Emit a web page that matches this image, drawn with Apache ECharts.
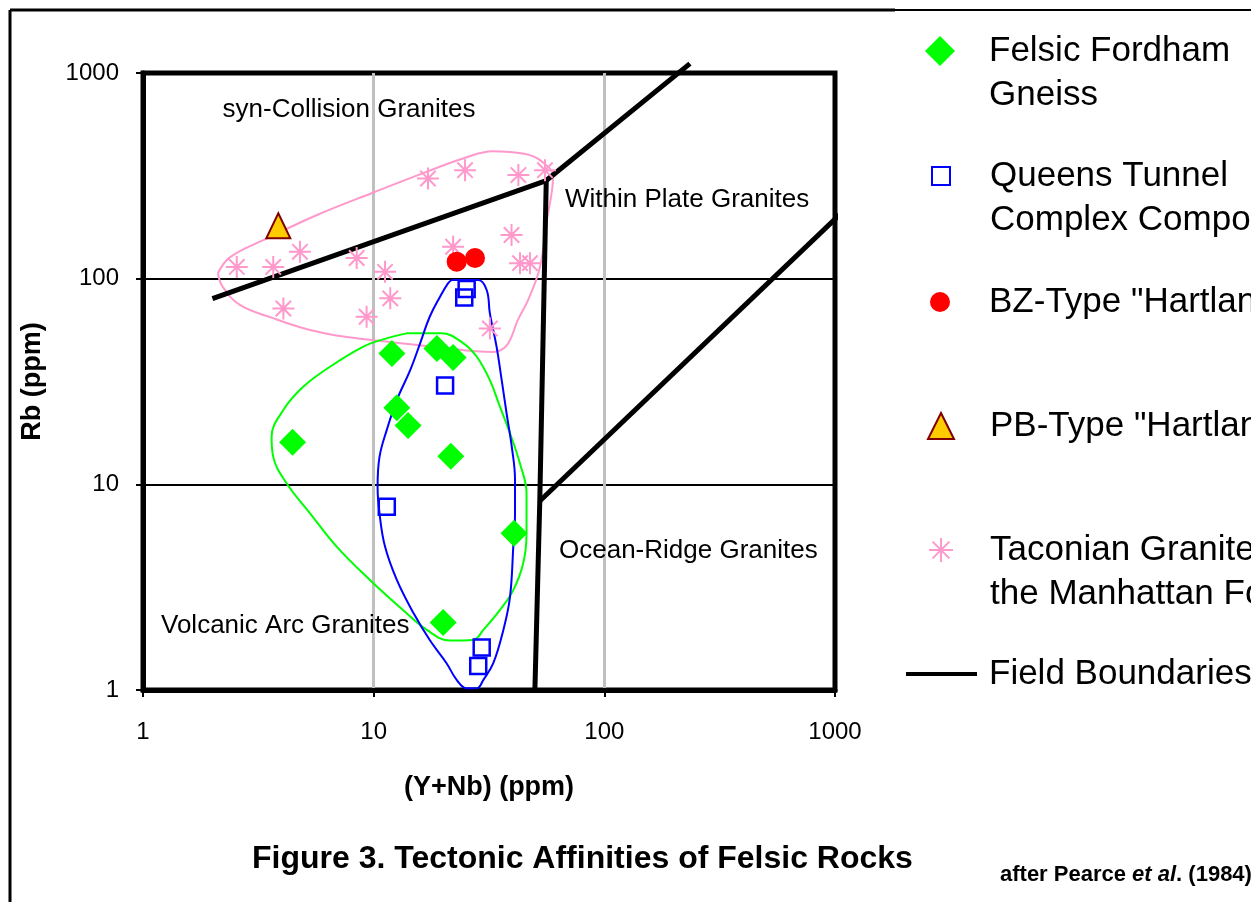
<!DOCTYPE html>
<html lang="en">
<head>
<meta charset="UTF-8">
<title>Tectonic Affinities of Felsic Rocks</title>
<script src="https://cdn.jsdelivr.net/npm/echarts@6/dist/echarts.min.js"></script>
<style>
  html, body { margin: 0; padding: 0; background: #fff; }
  #container { width: 1251px; height: 902px; }
</style>
</head>
<body>
<div id="container"></div>
<script>
// sample data: (Y+Nb) ppm vs Rb ppm
var felsicX = [12.0, 18.8, 22.1, 12.6, 14.1, 4.45, 21.6, 40.6, 20.0];
var felsicY = [43.3, 45.8, 41.4, 23.6, 19.3, 16.0, 13.7, 5.78, 2.13];

var queensX = [25.3, 24.7, 20.4, 11.4, 29.4, 28.4];
var queensY = [89, 81, 30.2, 7.78, 1.61, 1.31];

var bzX = [22.9, 27.5];
var bzY = [121, 126];

var pbX = [3.86];
var pbY = [181];

var taconianX = [2.55, 3.67, 4.79, 4.06, 8.44, 11.2, 11.8, 9.32, 17.2, 24.9, 42.4, 55.3, 22.1, 39.6, 43.1, 47.6, 31.9];
var taconianY = [114, 114, 135, 71.6, 126, 108, 80.2, 65.3, 307, 337, 319, 337, 143, 163, 119, 119, 57.3];

// field boundaries (Pearce et al.)
var boundaryA = [[2, 80], [56, 300], [235, 1110]];
var boundaryB = [[56, 300], [52.5, 8.3], [50, 1]];
var boundaryC = [[52.5, 8.3], [1120, 220]];

// hand-drawn envelopes round each group
var pinkEnvelope = [[2.11, 106], [2.38, 127], [3.45, 157], [5.68, 204], [10.1, 264], [16.4, 326], [24.4, 384],
  [32.9, 417], [45, 405], [52.6, 377], [59.9, 312], [56.4, 193], [52.6, 114], [46.7, 78.7], [42.2, 63.0],
  [37.8, 47.5], [32.9, 44.0], [18.8, 46.5], [11.8, 49.2], [7.66, 52.0], [5.30, 56.3], [3.66, 64.3],
  [2.63, 74.5], [2.22, 91.0], [2.11, 106]];
var greenEnvelope = [[13.9, 54.2], [19.7, 54.2], [24.5, 48.5], [28.0, 41.7], [31.9, 32.1], [35.3, 23.8],
  [39.0, 17.7], [43.1, 12.6], [46.0, 9.04], [46.0, 5.78], [44.5, 4.13], [40.3, 3.06], [35.3, 2.45],
  [29.9, 1.96], [27.0, 1.75], [21.4, 1.74], [17.0, 1.96], [13.4, 2.45], [9.63, 3.43], [6.91, 4.98],
  [5.30, 7.23], [4.20, 10.1], [3.67, 13.6], [3.61, 17.0], [4.06, 23.0], [4.95, 29.8], [6.47, 37.3],
  [9.02, 46.7], [11.0, 50.7], [13.9, 54.2]];
var blueEnvelope = [[21.8, 98.5], [28.4, 98.5], [30.9, 88.1], [31.9, 67.8], [34.1, 46.7], [35.9, 32.1],
  [37.7, 22.1], [39.7, 15.2], [41.0, 10.5], [41.0, 7.23], [40.3, 4.98], [39.0, 2.84], [36.5, 1.96],
  [33.0, 1.35], [29.9, 1.12], [28.0, 1.02], [25.3, 1.02], [22.9, 1.12], [20.7, 1.35], [17.5, 1.75],
  [14.9, 2.36], [12.6, 3.43], [11.2, 4.98], [10.6, 7.23], [10.4, 9.73], [10.6, 13.6], [11.4, 18.4],
  [12.6, 25.7], [14.4, 35.9], [15.9, 48.5], [17.5, 65.3], [19.4, 81.7], [21.0, 94.9], [21.8, 98.5]];

var xTickLabels = ['1', '10', '100', '1000'];
var yTickLabels = ['1', '10', '100', '1000'];

var names = {
  felsic: 'Felsic Fordham\nGneiss',
  queens: 'Queens Tunnel\nComplex Components',
  bz: 'BZ-Type "Hartland"',
  pb: 'PB-Type "Hartland"',
  taconian: 'Taconian Granites of\nthe Manhattan Formation',
  field: 'Field Boundaries'
};

function zip(xs, ys) {
  var out = [];
  for (var i = 0; i < xs.length; i++) out.push([xs[i], ys[i]]);
  return out;
}

var font = 'Liberation Sans, Arial, sans-serif';
var asterisk = 'path://M10 0L10 20M0 10L20 10M3 3L17 17M17 3L3 17';

var myChart = echarts.init(document.getElementById('container'));

function envelope(data, color) {
  return {
    type: 'line', data: data, smooth: 0.4, symbol: 'none', silent: true, z: 1,
    lineStyle: { color: color, width: 2 }
  };
}
function boundary(data) {
  return {
    name: names.field, type: 'line', data: data, symbol: 'none', clip: false, silent: true, z: 3,
    lineStyle: { color: '#000', width: 5 }, itemStyle: { color: '#000' }
  };
}
// the icon is centred on the text block, so two-line names get an empty
// first line to bring the icon level with the name's first line
function legendFor(name, left, top, w, h, pad, twoLines, extra) {
  var lg = {
    data: [name], left: left, top: top, orient: 'vertical', selectedMode: false,
    itemWidth: w, itemHeight: h,
    formatter: function (n) { return twoLines ? '\n' + n : n; },
    textStyle: { fontFamily: font, fontSize: 35, color: '#000', lineHeight: 44, padding: [0, 0, 0, pad] }
  };
  for (var k in extra) lg[k] = extra[k];
  return lg;
}

var option = {
  backgroundColor: '#fff',
  animation: false,
  title: [{
    text: 'Figure 3. Tectonic Affinities of Felsic Rocks',
    left: 247, top: 838,
    textStyle: { fontFamily: font, fontSize: 32, fontWeight: 'bold', color: '#000' }
  }, {
    text: 'after Pearce {i|et al}. (1984)',
    left: 995, top: 859,
    textStyle: {
      fontFamily: font, fontSize: 22, fontWeight: 'bold', color: '#000',
      rich: { i: { fontFamily: font, fontSize: 22, fontWeight: 'bold', fontStyle: 'italic', color: '#000' } }
    }
  }],
  legend: [
    legendFor(names.felsic, 920, -20, 30, 30, 29, true),
    legendFor(names.queens, 926, 105, 18, 18, 35, true),
    legendFor(names.bz, 925, 275, 20, 20, 34, false),
    legendFor(names.pb, 922, 399, 26, 26, 31, false),
    legendFor(names.taconian, 923, 479, 24, 24, 32, true),
    legendFor(names.field, 901, 647, 71, 4, 7, false, { icon: 'rect' })
  ],
  grid: {
    left: 143, top: 73, width: 692, height: 617,
    show: true, borderColor: '#000', borderWidth: 5, backgroundColor: '#fff'
  },
  xAxis: {
    type: 'log', logBase: 10, min: 1, max: 1000,
    name: '(Y+Nb) (ppm)', nameLocation: 'middle', nameGap: 84,
    nameTextStyle: { fontFamily: font, fontSize: 27, fontWeight: 'bold', color: '#000' },
    axisLine: { show: true, lineStyle: { color: '#000', width: 5 } },
    axisTick: { show: true, length: 7, lineStyle: { color: '#000', width: 2 } },
    axisLabel: {
      fontFamily: font, fontSize: 24, color: '#000', margin: 30,
      formatter: function (v) { return xTickLabels[Math.round(Math.log10(v))]; }
    },
    splitLine: { show: true, lineStyle: { color: ['transparent', '#c0c0c0', '#c0c0c0', 'transparent'], width: 3 } },
    minorTick: { show: false }
  },
  yAxis: {
    type: 'log', logBase: 10, min: 1, max: 1000,
    name: 'Rb (ppm)', nameLocation: 'middle', nameGap: 97,
    nameTextStyle: { fontFamily: font, fontSize: 27, fontWeight: 'bold', color: '#000' },
    axisLine: { show: true, lineStyle: { color: '#000', width: 5 } },
    axisTick: { show: true, length: 7, lineStyle: { color: '#000', width: 2 } },
    axisLabel: {
      fontFamily: font, fontSize: 24, color: '#000', margin: 24,
      formatter: function (v) { return yTickLabels[Math.round(Math.log10(v))]; }
    },
    splitLine: { show: true, lineStyle: { color: ['transparent', '#000', '#000', 'transparent'], width: 2 } },
    minorTick: { show: false }
  },
  graphic: [
    { type: 'line', shape: { x1: 10, y1: 10, x2: 895, y2: 10 }, style: { stroke: '#000', lineWidth: 3 }, silent: true },
    { type: 'line', shape: { x1: 895, y1: 10, x2: 1251, y2: 10 }, style: { stroke: '#000', lineWidth: 2 }, silent: true },
    { type: 'line', shape: { x1: 10, y1: 10, x2: 10, y2: 902 }, style: { stroke: '#000', lineWidth: 3 }, silent: true },
    { type: 'text', x: 349, y: 110, style: { text: 'syn-Collision Granites', font: '26px ' + font, fill: '#000', textAlign: 'center', textVerticalAlign: 'middle' }, z: 10 },
    { type: 'text', x: 565, y: 200, style: { text: 'Within Plate Granites', font: '26px ' + font, fill: '#000', textAlign: 'left', textVerticalAlign: 'middle' }, z: 10 },
    { type: 'text', x: 559, y: 551, style: { text: 'Ocean-Ridge Granites', font: '26px ' + font, fill: '#000', textAlign: 'left', textVerticalAlign: 'middle' }, z: 10 },
    { type: 'text', x: 161, y: 626, style: { text: 'Volcanic Arc Granites', font: '26px ' + font, fill: '#000', textAlign: 'left', textVerticalAlign: 'middle' }, z: 10 }
  ],
  series: [
    envelope(pinkEnvelope, '#ff99cc'),
    envelope(greenEnvelope, '#00ff00'),
    envelope(blueEnvelope, '#0000ff'),
    boundary(boundaryA),
    boundary(boundaryB),
    boundary(boundaryC),
    {
      name: names.taconian, type: 'scatter', data: zip(taconianX, taconianY),
      symbol: asterisk, symbolSize: 22, z: 4,
      itemStyle: { color: 'transparent', borderColor: '#ff99cc', borderWidth: 2, opacity: 1 }
    },
    {
      name: names.felsic, type: 'scatter', data: zip(felsicX, felsicY),
      symbol: 'diamond', symbolSize: 27, z: 5,
      itemStyle: { color: '#00ff00', opacity: 1 }
    },
    {
      name: names.queens, type: 'scatter', data: zip(queensX, queensY),
      symbol: 'rect', symbolSize: 16, z: 5,
      itemStyle: { color: 'transparent', borderColor: '#0000ff', borderWidth: 2.5, opacity: 1 }
    },
    {
      name: names.bz, type: 'scatter', data: zip(bzX, bzY),
      symbol: 'circle', symbolSize: 20, z: 5,
      itemStyle: { color: '#ff0000', opacity: 1 }
    },
    {
      name: names.pb, type: 'scatter', data: zip(pbX, pbY),
      symbol: 'triangle', symbolSize: [24, 25], z: 5,
      itemStyle: { color: '#ffcc00', borderColor: '#800000', borderWidth: 2, opacity: 1 }
    }
  ]
};

myChart.setOption(option);
</script>
</body>
</html>
